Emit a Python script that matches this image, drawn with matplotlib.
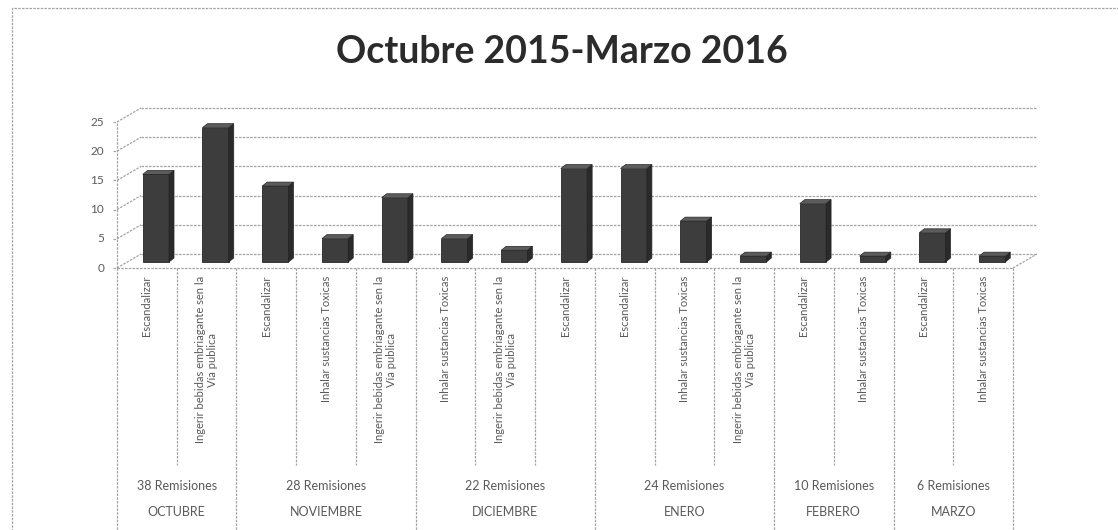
import numpy as np
import matplotlib
matplotlib.use('Agg')
import matplotlib.pyplot as plt
from matplotlib.patches import Polygon, Rectangle

plt.rcParams['font.family'] = ['Lato', 'DejaVu Sans']

# datos
titulo = 'Octubre 2015-Marzo 2016'
meses = ['OCTUBRE', 'NOVIEMBRE', 'DICIEMBRE', 'ENERO', 'FEBRERO', 'MARZO']
remisiones = ['38 Remisiones', '28 Remisiones', '22 Remisiones',
              '24 Remisiones', '10 Remisiones', '6 Remisiones']
esc = 'Escandalizar'
ing = 'Ingerir bebidas embriagante sen la\nVía publica'
inh = 'Inhalar sustancias Toxicas'
categorias = [esc, ing,
              esc, inh, ing,
              inh, ing, esc,
              esc, inh, ing,
              esc, inh,
              esc, inh]
por_mes = [2, 3, 3, 3, 2, 2]
valores = [15, 23,
           13, 4, 11,
           4, 2, 16,
           16, 7, 1,
           10, 1,
           5, 1]
yticks = [0, 5, 10, 15, 20, 25]

# geometria (pixeles)
W, H = 1118, 530
x0, x1 = 117, 1013
ybot, ytop = 268, 122
n = len(valores)
ux = (x1 - x0) / n
uy = (ybot - ytop) / 25.0

fig = plt.figure(figsize=(W / 100, H / 100), dpi=100)
fig.patch.set_facecolor('white')

grid_kw = dict(color='#a3a3a3', lw=0.9, ls=(0, (2, 1)), clip_on=False, zorder=1)

ax = fig.add_axes([x0 / W, 1 - ybot / H, (x1 - x0) / W, (ybot - ytop) / H])
ax.set_xlim(0, n)
ax.set_ylim(0, 25)
ax.axis('off')

DX, DY = 24 / ux, 14 / uy
for v in yticks:
    ax.plot([DX, n + DX], [v + DY, v + DY], **grid_kw)
    ax.plot([0, DX], [v, v + DY], **grid_kw)
    ax.plot([-4 / ux, 0], [v, v], **grid_kw)
    ax.text(-13 / ux, v, str(v), ha='right', va='center', fontsize=8.5,
            color='#5a5a5a')
ax.plot([0, 0], [0, 25], **grid_kw)
ax.plot([0, n], [0, 0], **grid_kw)
ax.plot([n, n + DX], [0, DY], **grid_kw)

# barras pseudo 3D
bx, by = 9 / ux, 6 / uy
sx, sy = 5 / ux, 4 / uy
w = 0.44
xc = np.arange(n) + 0.5 + bx
ax.bar(xc, valores, width=w, bottom=by, color='#3d3d3d', edgecolor='#262626',
       lw=0.6, clip_on=False, zorder=3)
for x, v in zip(xc, valores):
    xl, xr = x - w / 2, x + w / 2
    side = Polygon([(xr, by), (xr + sx, by + sy), (xr + sx, by + v + sy), (xr, by + v)],
                   closed=True, fc='#2a2a2a', ec='#222222', lw=0.5, clip_on=False, zorder=3)
    top = Polygon([(xl, by + v), (xl + sx, by + v + sy), (xr + sx, by + v + sy), (xr, by + v)],
                  closed=True, fc='#5c5c5c', ec='#262626', lw=0.5, clip_on=False, zorder=4)
    ax.add_patch(side)
    ax.add_patch(top)

# tabla de categorias
tab = fig.add_axes([x0 / W, 0, (x1 - x0) / W, (H - ybot) / H])
tab.set_xlim(0, n)
tab.set_ylim(1, 0)
tab.axis('off')
fy = lambda p: (p - ybot) / (H - ybot)

limites = np.concatenate([[0], np.cumsum(por_mes)])
for i in range(n + 1):
    y_end = 1.05 if i in limites else fy(465)
    tab.plot([i, i], [0, y_end], **grid_kw)

for i, lab in enumerate(categorias):
    tab.text(i + 0.5, fy(276), lab, rotation=90, ha='center', va='top',
             multialignment='center', fontsize=8, color='#5a5a5a',
             linespacing=1.1)

for k in range(len(meses)):
    xm = (limites[k] + limites[k + 1]) / 2
    tab.text(xm, fy(486), remisiones[k], ha='center', va='center',
             fontsize=9, color='#5a5a5a')
    tab.text(xm, fy(512), meses[k], ha='center', va='center',
             fontsize=9, color='#5a5a5a')

# titulo y borde
fig.text(562 / W, 1 - 52 / H, titulo, ha='center', va='center', fontsize=27,
         fontweight='bold', color='#2b2b2b')
fig.add_artist(Rectangle((12 / W, -0.1), 1.2, 1.1 - 8 / H, transform=fig.transFigure,
                         fill=False, ec='#a3a3a3', lw=0.9, ls=(0, (2, 1))))

fig.savefig('out.png', dpi=100)
